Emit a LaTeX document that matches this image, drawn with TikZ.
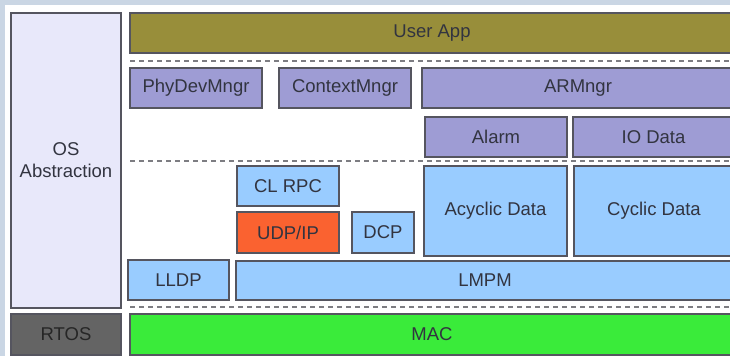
\documentclass[tikz,border=0pt]{standalone}
\usepackage{fontspec}
\setmainfont{Liberation Sans}
\definecolor{bgblue}{RGB}{202,214,228}
\definecolor{appolive}{RGB}{152,142,58}
\definecolor{mngrviolet}{RGB}{158,156,212}
\definecolor{stackblue}{RGB}{153,204,255}
\definecolor{udporange}{RGB}{250,98,48}
\definecolor{macgreen}{RGB}{58,235,58}
\definecolor{oslavender}{RGB}{232,232,250}
\definecolor{rtosgray}{RGB}{100,100,100}
\definecolor{lineg}{RGB}{85,85,95}
\definecolor{textg}{RGB}{50,52,64}
\tikzset{
  blk/.style={rectangle, draw=lineg, line width=1.2pt, inner sep=0pt,
    text=textg, font=\fontsize{18.5}{22}\selectfont},
  sepline/.style={dash pattern=on 5pt off 4pt, draw={rgb,255:red,125;green,125;blue,130}, line width=2pt},
}
\begin{document}
\begin{tikzpicture}[x=1pt,y=-1pt]

        % Рамка и фон
        \useasboundingbox (0,0) rectangle (730,356);
        \fill[bgblue] (0,0) rectangle (730,356);
        \fill[white] (5,5) rectangle (740,362);

        % Левая колонка
        \node[blk, fill=oslavender, minimum width=110pt, minimum height=295pt, align=center] (osabs) at (66,160.5) {OS\\Abstraction};
        \node[blk, fill=rtosgray, minimum width=110pt, minimum height=41pt, text={rgb,255:red,38;green,38;blue,38}] (rtos) at (66,334.5) {RTOS};

        % Приложение
        \node[blk, fill=appolive, minimum width=604pt, minimum height=40pt] (userapp) at (432,33) {User App};

        % Разделители
        \draw[sepline] (130,60.5) -- (734,60.5);
        \draw[sepline] (130,160.5) -- (734,160.5);
        \draw[sepline] (130,307) -- (734,307);

        % Менеджеры
        \node[blk, fill=mngrviolet, minimum width=132pt, minimum height=40pt] (phydev) at (196,88) {PhyDevMngr};
        \node[blk, fill=mngrviolet, minimum width=132pt, minimum height=40pt] (context) at (345,88) {ContextMngr};
        \node[blk, fill=mngrviolet, minimum width=312pt, minimum height=40pt] (armngr) at (578,88) {ARMngr};
        \node[blk, fill=mngrviolet, minimum width=142pt, minimum height=40pt] (alarm) at (496,137) {Alarm};
        \node[blk, fill=mngrviolet, minimum width=161pt, minimum height=40pt] (iodata) at (653.5,137) {IO Data};

        % Стек протоколов
        \node[blk, fill=stackblue, minimum width=102pt, minimum height=40pt] (clrpc) at (288,186) {CL RPC};
        \node[blk, fill=udporange, minimum width=102pt, minimum height=41pt] (udpip) at (288,232.5) {UDP/IP};
        \node[blk, fill=stackblue, minimum width=62pt, minimum height=41pt] (dcp) at (383,232.5) {DCP};
        \node[blk, fill=stackblue, minimum width=143pt, minimum height=90pt] (acyclic) at (495.5,211) {Acyclic Data};
        \node[blk, fill=stackblue, minimum width=160pt, minimum height=90pt] (cyclic) at (654,211) {Cyclic Data};
        \node[blk, fill=stackblue, minimum width=101pt, minimum height=40pt] (lldp) at (178.5,280) {LLDP};
        \node[blk, fill=stackblue, minimum width=498pt, minimum height=39pt] (lmpm) at (485,280.5) {LMPM};

        % Нижний уровень
        \node[blk, fill=macgreen, minimum width=604pt, minimum height=41pt] (mac) at (432,334.5) {MAC};

        \end{tikzpicture}
\end{document}
